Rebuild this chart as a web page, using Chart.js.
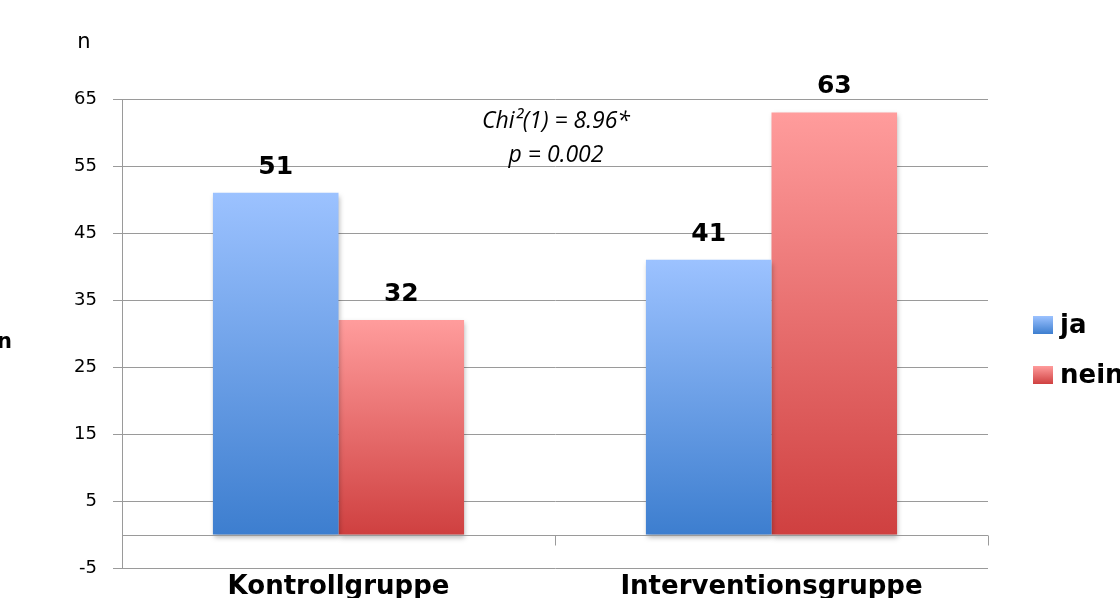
<!DOCTYPE html>
<html>
<head>
<meta charset="utf-8">
<script src="https://cdn.jsdelivr.net/npm/chart.js@4/dist/chart.umd.min.js"></script>
<style>
	html, body { margin: 0; padding: 0; background: #fff; overflow: hidden; }
	canvas { display: block; }
</style>
</head>
<body>
<canvas id="c" width="1120" height="598"></canvas>
<script>
var categories = ['Kontrollgruppe', 'Interventionsgruppe'];
var seriesNames = ['ja', 'nein'];
var jaValues = [51, 41];
var neinValues = [32, 63];
var yTicks = [-5, 5, 15, 25, 35, 45, 55, 65];
var statLines = ['Chi²(1) = 8.96*', 'p = 0.002'];

var colors = {
	ja: ['#9cc2ff', '#3d7ecf'],
	nein: ['#ff9c9c', '#cf4040']
};

function barGradient(key) {
	return function (ctx) {
		var chart = ctx.chart;
		var y = chart.scales.y;
		if (!y || !ctx.parsed) {
			return colors[key][1];
		}
		var top = y.getPixelForValue(ctx.parsed.y);
		var base = y.getPixelForValue(0);
		if (!isFinite(top) || !isFinite(base) || top === base) {
			return colors[key][1];
		}
		var g = chart.ctx.createLinearGradient(0, top, 0, base);
		g.addColorStop(0, colors[key][0]);
		g.addColorStop(1, colors[key][1]);
		return g;
	};
}

var extras = {
	id: 'extras',
	beforeDatasetsDraw: function (chart) {
		var ctx = chart.ctx;
		ctx.save();
		ctx.shadowColor = 'rgba(0,0,0,0.28)';
		ctx.shadowBlur = 5;
		ctx.shadowOffsetX = 1;
		ctx.shadowOffsetY = 3;
	},
	afterDatasetsDraw: function (chart) {
		var ctx = chart.ctx;
		ctx.restore();
		var y = chart.scales.y;
		var x = chart.scales.x;
		var area = chart.chartArea;
		var zero = Math.round(y.getPixelForValue(0)) + 0.5;

		// zero line with category tick marks
		ctx.save();
		ctx.strokeStyle = '#9a9a9a';
		ctx.lineWidth = 1;
		ctx.beginPath();
		ctx.moveTo(area.left, zero);
		ctx.lineTo(area.right, zero);
		for (var i = 1; i <= categories.length; i++) {
			var px = Math.round(x.getPixelForValue(i - 0.5)) + 0.5;
			ctx.moveTo(px, zero);
			ctx.lineTo(px, zero + 10);
		}
		ctx.stroke();

		// value labels
		ctx.fillStyle = '#000';
		ctx.font = 'bold 25px "DejaVu Sans"';
		ctx.textAlign = 'center';
		ctx.textBaseline = 'bottom';
		chart.data.datasets.forEach(function (ds, di) {
			chart.getDatasetMeta(di).data.forEach(function (bar, j) {
				ctx.fillText(String(ds.data[j]), bar.x, bar.y - 13);
			});
		});

		// statistic annotation
		var cx = x.getPixelForValue(0.5);
		ctx.font = 'italic 23px "Open Sans"';
		ctx.textBaseline = 'middle';
		ctx.fillText(statLines[0], cx + 1, 121);
		ctx.fillText(statLines[1], cx + 1, 155);

		// axis captions
		ctx.font = '21px "DejaVu Sans"';
		ctx.fillText('n', 84, 43);
		ctx.font = 'bold 21px "DejaVu Sans"';
		ctx.textAlign = 'right';
		ctx.fillText('n', 12, 343);

		// legend
		ctx.textAlign = 'left';
		ctx.font = 'bold 26px "DejaVu Sans"';
		seriesNames.forEach(function (name, k) {
			var top = 316 + k * 50;
			var g = ctx.createLinearGradient(0, top, 0, top + 18);
			g.addColorStop(0, colors[name][0]);
			g.addColorStop(1, colors[name][1]);
			ctx.fillStyle = g;
			ctx.fillRect(1033, top, 20, 18);
			ctx.fillStyle = '#000';
			ctx.fillText(name, 1060, top + 10);
		});
		ctx.restore();
	}
};

new Chart(document.getElementById('c'), {
	type: 'bar',
	data: {
		labels: categories,
		datasets: [{
			label: seriesNames[0],
			data: jaValues,
			backgroundColor: barGradient('ja'),
			borderWidth: 0
		}, {
			label: seriesNames[1],
			data: neinValues,
			backgroundColor: barGradient('nein'),
			borderWidth: 0
		}]
	},
	options: {
		responsive: false,
		animation: false,
		devicePixelRatio: 1,
		layout: { padding: { left: 0, top: 99, right: 132, bottom: 0 } },
		datasets: { bar: { barPercentage: 1, categoryPercentage: 0.58 } },
		plugins: { legend: { display: false }, tooltip: { enabled: false } },
		scales: {
			x: {
				grid: { display: false },
				border: { display: false },
				ticks: {
					color: '#000',
					padding: -4,
					font: { family: 'DejaVu Sans', size: 26, weight: 'bold' }
				},
				afterFit: function (s) { s.height = 30; }
			},
			y: {
				min: yTicks[0],
				max: yTicks[yTicks.length - 1],
				afterBuildTicks: function (s) {
					s.ticks = yTicks.map(function (v) { return { value: v }; });
				},
				grid: { color: '#9a9a9a', lineWidth: 1, tickLength: 9 },
				border: { color: '#9a9a9a', width: 1 },
				ticks: {
					color: '#000',
					padding: 16,
					font: { family: 'DejaVu Sans', size: 18 }
				},
				afterFit: function (s) { s.width = 122; }
			}
		}
	},
	plugins: [extras]
});
</script>
</body>
</html>
